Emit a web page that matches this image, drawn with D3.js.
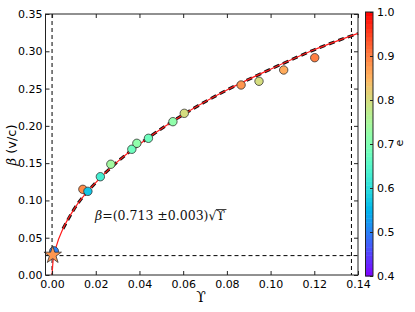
<!DOCTYPE html>
<html>
<head>
<meta charset="utf-8">
<script src="https://cdn.jsdelivr.net/npm/d3@7"></script>
<style>
  body { margin: 0; background: #fff; }
  svg { display: block; }
  .tick-label { font-family: 'DejaVu Sans', sans-serif; font-size: 11px; fill: #000; }
</style>
</head>
<body>
<svg id="chart" width="415" height="312"></svg>
<script>
/* ---------- data ---------- */
const upsilon = [0.0141, 0.0164, 0.0221, 0.0269, 0.0365, 0.0388, 0.0441, 0.0553, 0.0605, 0.0865, 0.0947, 0.1060, 0.1202];
const beta    = [0.1149, 0.1122, 0.1318, 0.1485, 0.1686, 0.1766, 0.1833, 0.2056, 0.2168, 0.2548, 0.2598, 0.2749, 0.2914];
const ecc     = [0.89,   0.57,   0.63,   0.74,   0.68,   0.72,   0.68,   0.72,   0.80,   0.88,   0.80,   0.86,   0.90];

// the two points near the origin
const originCircle = { u: 0.0009, b: 0.032, e: 0.50 };
const originStar   = { u: 0.0003, b: 0.0268, e: 0.88 };

// fit curve
const fitU = [0, 0.0005, 0.002, 0.005, 0.01, 0.02, 0.03, 0.045, 0.06, 0.08, 0.10, 0.12, 0.14];
const fitB = [0, 0.020, 0.039, 0.062, 0.088, 0.124, 0.152, 0.186, 0.215, 0.248, 0.276, 0.302, 0.324];

// reference lines
const vLines = [0.0, 0.137];
const hLines = [0.026];

const xTicks = [0, 0.02, 0.04, 0.06, 0.08, 0.10, 0.12, 0.14];
const yTicks = [0, 0.05, 0.10, 0.15, 0.20, 0.25, 0.30, 0.35];
const cTicks = [0.4, 0.5, 0.6, 0.7, 0.8, 0.9, 1.0];

/* ---------- colormap (matplotlib "rainbow") ---------- */
function rainbow(t) {
  const c = v => Math.round(Math.max(0, Math.min(1, v)) * 255);
  return `rgb(${c(Math.abs(2 * t - 0.5))},${c(Math.sin(Math.PI * t))},${c(Math.cos(Math.PI * t / 2))})`;
}
const eScale = d3.scaleLinear().domain([0.4, 1.0]).range([0, 1]).clamp(true);
const eColor = e => rainbow(eScale(e));

/* ---------- layout ---------- */
const svg = d3.select('#chart');
const L = 45.5, R = 358, T = 14, B = 275;

const x = d3.scaleLinear().domain([-0.003, 0.14]).range([L, R]);
const y = d3.scaleLinear().domain([0, 0.35]).range([B, T]);
const fmt = d3.format('.2f');

const plot = svg.append('g');

// reference dashed lines
plot.selectAll('.vref').data(vLines).enter().append('line')
  .attr('x1', d => x(d)).attr('x2', d => x(d))
  .attr('y1', T).attr('y2', B)
  .attr('stroke', '#000').attr('stroke-width', 1)
  .attr('stroke-dasharray', '4,3');
plot.selectAll('.href').data(hLines).enter().append('line')
  .attr('x1', L).attr('x2', R)
  .attr('y1', d => y(d)).attr('y2', d => y(d))
  .attr('stroke', '#000').attr('stroke-width', 1)
  .attr('stroke-dasharray', '4,3');

// fit curves
const fit = fitU.map((u, i) => ({ u, b: fitB[i] }));
const line = d3.line().x(d => x(d.u)).y(d => y(d.b)).curve(d3.curveMonotoneX);

plot.append('path')
  .datum(fit.filter(d => d.u >= 0.005))
  .attr('d', line)
  .attr('fill', 'none')
  .attr('stroke', '#111')
  .attr('stroke-width', 3)
  .attr('stroke-dasharray', '6,4');

plot.append('path')
  .datum(fit)
  .attr('d', line)
  .attr('fill', 'none')
  .attr('stroke', '#ff1a1a')
  .attr('stroke-width', 1.2);

// data points
const pts = upsilon.map((u, i) => ({ u, b: beta[i], e: ecc[i] }));
plot.selectAll('.pt').data(pts).enter().append('circle')
  .attr('cx', d => x(d.u))
  .attr('cy', d => y(d.b))
  .attr('r', 4.2)
  .attr('fill', d => eColor(d.e))
  .attr('stroke', '#333')
  .attr('stroke-width', 0.8);

plot.append('circle')
  .attr('cx', x(originCircle.u)).attr('cy', y(originCircle.b))
  .attr('r', 4.5)
  .attr('fill', eColor(originCircle.e))
  .attr('stroke', '#333').attr('stroke-width', 0.8);

plot.append('path')
  .attr('d', d3.symbol().type(d3.symbolStar).size(95)())
  .attr('transform', `translate(${x(originStar.u)},${y(originStar.b)})`)
  .attr('fill', eColor(originStar.e))
  .attr('stroke', '#333').attr('stroke-width', 0.8);

/* ---------- frame and ticks ---------- */
svg.append('rect')
  .attr('x', L).attr('y', T).attr('width', R - L).attr('height', B - T)
  .attr('fill', 'none').attr('stroke', '#222').attr('stroke-width', 1);

const tl = 4;
svg.append('g').attr('transform', `translate(0,${B})`)
  .call(d3.axisBottom(x).tickValues(xTicks).tickSizeInner(-tl).tickSizeOuter(0).tickPadding(5).tickFormat(fmt))
  .call(g => g.select('.domain').remove())
  .call(g => g.selectAll('text').attr('class', 'tick-label').attr('dy', '0.71em'));
svg.append('g').attr('transform', `translate(0,${T})`)
  .call(d3.axisTop(x).tickValues(xTicks).tickSizeInner(-tl).tickSizeOuter(0).tickFormat(''))
  .call(g => g.select('.domain').remove());
svg.append('g').attr('transform', `translate(${L},0)`)
  .call(d3.axisLeft(y).tickValues(yTicks).tickSizeInner(-tl).tickSizeOuter(0).tickPadding(3).tickFormat(fmt))
  .call(g => g.select('.domain').remove())
  .call(g => g.selectAll('text').attr('class', 'tick-label'));
svg.append('g').attr('transform', `translate(${R},0)`)
  .call(d3.axisRight(y).tickValues(yTicks).tickSizeInner(-tl).tickSizeOuter(0).tickFormat(''))
  .call(g => g.select('.domain').remove());
svg.selectAll('.tick line').attr('stroke', '#222');

// axis titles
svg.append('text')
  .attr('x', 201).attr('y', 302)
  .attr('text-anchor', 'middle')
  .attr('font-family', 'DejaVu Serif, serif')
  .attr('font-size', 14)
  .text('ϒ');

const yl = svg.append('text')
  .attr('transform', 'translate(16,145) rotate(-90)')
  .attr('text-anchor', 'middle')
  .attr('font-family', 'DejaVu Sans, sans-serif')
  .attr('font-size', 13);
yl.append('tspan').attr('font-family', 'DejaVu Serif, serif').attr('font-style', 'italic').text('β');
yl.append('tspan').text(' (v/c)');

// annotation
const ann = svg.append('text')
  .attr('x', 95).attr('y', 220)
  .attr('font-family', 'DejaVu Serif, serif')
  .attr('font-size', 12.5)
  .attr('fill', '#111');
ann.append('tspan').attr('font-style', 'italic').text('β');
ann.append('tspan').text('=(0.713 ±0.003)√');
const ups = ann.append('tspan').text('ϒ');
const ab = ann.node().getBBox();
const uLen = ups.node().getComputedTextLength();
svg.append('line')
  .attr('x1', ab.x + ab.width - uLen - 1).attr('x2', ab.x + ab.width + 1)
  .attr('y1', ab.y + 1.5).attr('y2', ab.y + 1.5)
  .attr('stroke', '#111').attr('stroke-width', 0.8);

/* ---------- colorbar ---------- */
const cbX = 365.5, cbW = 7.5, cbT = 12, cbB = 276;
const cy = d3.scaleLinear().domain([0.4, 1.0]).range([cbB, cbT]);
const nBands = 64;
const bands = d3.range(nBands).map(i => 0.4 + 0.6 * i / nBands);
svg.append('g').selectAll('rect').data(bands).enter().append('rect')
  .attr('x', cbX).attr('width', cbW)
  .attr('y', d => cy(d + 0.6 / nBands))
  .attr('height', (cbB - cbT) / nBands + 0.5)
  .attr('fill', d => rainbow(eScale(d + 0.3 / nBands)));
svg.append('rect')
  .attr('x', cbX).attr('y', cbT).attr('width', cbW).attr('height', cbB - cbT)
  .attr('fill', 'none').attr('stroke', '#222').attr('stroke-width', 1);
svg.append('g').attr('transform', `translate(${cbX + cbW},0)`)
  .call(d3.axisRight(cy).tickValues(cTicks).tickSizeInner(-3).tickSizeOuter(0).tickPadding(4).tickFormat(d3.format('.1f')))
  .call(g => g.select('.domain').remove())
  .call(g => g.selectAll('text').attr('class', 'tick-label'))
  .call(g => g.selectAll('line').attr('stroke', '#222'));

svg.append('text')
  .attr('transform', 'translate(403,143) rotate(-90)')
  .attr('text-anchor', 'middle')
  .attr('font-family', 'DejaVu Sans, sans-serif')
  .attr('font-size', 11)
  .text('e');
</script>
</body>
</html>
